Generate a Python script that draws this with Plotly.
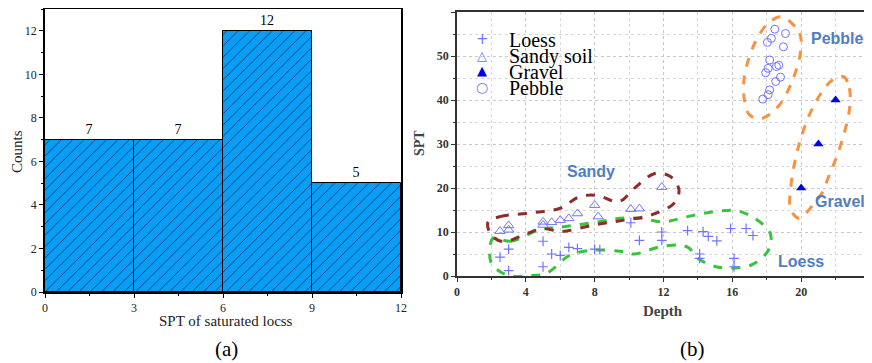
import plotly.graph_objects as go

# ---------------- data ----------------
bin_centers = [1.5, 4.5, 7.5, 10.5]
bin_counts = [7, 7, 12, 5]
hist_xticks = [0, 3, 6, 9, 12]

loess_depth = [2.5, 3.0, 3.0, 5.0, 5.0, 5.5, 6.0, 6.5, 7.0, 8.0, 8.3, 10.1, 10.6, 11.9, 11.9,
               13.4, 14.3, 14.6, 15.1, 14.1, 14.1, 15.9, 16.1, 16.1, 16.8, 17.2]
loess_spt = [4.3, 6.1, 1.2, 7.9, 2.1, 5.0, 4.7, 6.5, 6.2, 6.1, 6.0, 12.1, 8.1, 10.0, 8.1,
             10.3, 10.1, 9.0, 8.0, 5.0, 4.0, 10.8, 4.0, 2.1, 10.8, 9.2]

sandy_depth = [2.5, 3.0, 3.0, 5.0, 5.0, 5.5, 6.0, 6.5, 7.0, 8.0, 8.2, 10.1, 10.6, 11.9]
sandy_spt = [10.2, 11.5, 10.5, 12.3, 11.6, 12.2, 12.7, 13.1, 14.2, 16.1, 13.5, 15.2, 15.3, 20.2]

gravel_depth = [20, 21, 22]
gravel_spt = [20, 30, 40]

pebble_depth = [18.47, 19.09, 18.27, 18.04, 18.97, 18.17, 18.08, 18.7, 18.56, 17.94, 18.8,
                18.52, 18.17, 18.08, 17.77]
pebble_spt = [56.1, 55.1, 54.0, 53.1, 52.1, 49.1, 47.2, 47.9, 47.6, 46.2, 45.2, 44.2, 42.3,
              41.2, 40.2]

# hand-drawn group outlines (depth, SPT)
loess_outline_x = [2.1, 3.1, 4.8, 6.2, 8.2, 9.5, 10.7, 12.0, 13.4, 15.3, 16.3, 17.3, 18.2, 18.1,
                   17.1, 15.2, 14.0, 13.5, 13.0, 11.85, 10.3, 9.5, 8.15, 6.6, 5.2, 4.26, 2.9,
                   2.0, 1.93, 2.1]
loess_outline_y = [8.6, 7.9, 10.5, 11.2, 12.3, 13.1, 13.1, 12.3, 13.5, 14.8, 14.8, 13.1, 9.7, 5.9,
                   2.5, 2.0, 4.0, 6.3, 7.0, 6.7, 5.0, 5.6, 5.9, 4.8, 0.6, 0.1, 0.2, 2.9, 6.7, 8.6]
sandy_outline_x = [1.8, 2.5, 4.45, 6.0, 7.1, 8.15, 9.4, 10.3, 11.5, 12.4, 12.9, 12.6, 11.3, 9.7,
                   7.96, 6.0, 5.04, 4.07, 2.7, 2.0, 1.8]
sandy_outline_y = [12.2, 13.5, 14.4, 15.4, 18.0, 18.3, 16.9, 19.9, 23.3, 22.6, 19.5, 16.5, 13.9,
                   12.7, 11.6, 10.1, 10.8, 9.7, 7.8, 9.3, 12.2]
pebble_outline_x = [18.86, 19.9, 19.98, 19.5, 18.66, 17.7, 17.0, 16.7, 16.7, 17.3, 18.08, 18.86]
pebble_outline_y = [58.9, 55.2, 51.4, 44.5, 38.5, 35.8, 36.6, 40.0, 45.3, 52.9, 57.4, 58.9]
gravel_outline_x = [22.46, 22.8, 22.8, 22.2, 21.6, 21.2, 20.6, 19.9, 19.4, 19.4, 19.9, 20.8, 21.8,
                    22.46]
gravel_outline_y = [45.3, 42.7, 37.7, 28.6, 22.6, 18.8, 15.75, 13.1, 15.0, 20.3, 30.2, 39.2, 44.5,
                    45.3]

group_labels = ["Pebble", "Gravel", "Sandy", "Loess"]
group_label_x = [22.1, 22.25, 7.8, 20.0]
group_label_y = [53.9, 17.0, 23.8, 3.3]

legend_names = ["Loess", "Sandy soil", "Gravel", "Pebble"]
legend_glyphs = ["+", "△", "▲", "○"]

# ---------------- figure ----------------
SERIF = "Liberation Serif"
SANS = "Liberation Sans"
PT = "#7373FA"
BAR = "#0A9DF6"
# page body has an 8px margin: figure is sized to fit the window exactly
OFF = 8
W, H = 872 - OFF, 363 - OFF


def px_x(v):
    return min(1.0, max(0.0, (v - OFF) / W))


def px_y(v):
    return min(1.0, max(0.0, 1 - (v - OFF) / H))


fig = go.Figure()

fig.add_trace(go.Bar(
    x=bin_centers, y=bin_counts, width=3, text=[str(c) for c in bin_counts],
    textposition="outside", cliponaxis=False,
    textfont=dict(family=SERIF, size=14, color="black"),
    marker=dict(color=BAR, line=dict(color="black", width=1),
                pattern=dict(shape="/", fgcolor="#17305A", bgcolor=BAR,
                             size=8, solidity=0.1)),
    showlegend=False, xaxis="x", yaxis="y"))

outline_specs = [
    (loess_outline_x, loess_outline_y, "#35C43A"),
    (sandy_outline_x, sandy_outline_y, "#8E2B2B"),
    (pebble_outline_x, pebble_outline_y, "#F7923F"),
    (gravel_outline_x, gravel_outline_y, "#F7923F"),
]
for ox, oy, col in outline_specs:
    fig.add_trace(go.Scatter(x=ox, y=oy, mode="lines",
                             line=dict(color=col, width=3, dash="dash", shape="spline",
                                       smoothing=1.0),
                             showlegend=False, hoverinfo="skip", xaxis="x2", yaxis="y2"))

fig.add_trace(go.Scatter(x=loess_depth, y=loess_spt, mode="markers", name="Loess",
                         marker=dict(symbol="cross-thin-open", size=7, color=PT,
                                     line=dict(color=PT, width=1.2)),
                         showlegend=False, xaxis="x2", yaxis="y2"))
fig.add_trace(go.Scatter(x=sandy_depth, y=sandy_spt, mode="markers", name="Sandy soil",
                         marker=dict(symbol="triangle-up-open", size=9, color=PT,
                                     line=dict(color=PT, width=1)),
                         showlegend=False, xaxis="x2", yaxis="y2"))
fig.add_trace(go.Scatter(x=gravel_depth, y=gravel_spt, mode="markers", name="Gravel",
                         marker=dict(symbol="triangle-up", size=9, color="#0000F0"),
                         showlegend=False, xaxis="x2", yaxis="y2"))
fig.add_trace(go.Scatter(x=pebble_depth, y=pebble_spt, mode="markers", name="Pebble",
                         marker=dict(symbol="circle-open", size=8, color=PT,
                                     line=dict(color=PT, width=1)),
                         showlegend=False, xaxis="x2", yaxis="y2"))

annotations = []
for t, lx, ly in zip(group_labels, group_label_x, group_label_y):
    annotations.append(dict(x=lx, y=ly, xref="x2", yref="y2", text=f"<b>{t}</b>",
                            showarrow=False, xanchor="center", yanchor="middle",
                            font=dict(family=SANS, size=16, color="#4F7EC2")))

# legend drawn as compact text rows (as in the original, rows overlap slightly)
legend_row_y = [39, 55, 71, 87]
glyph_colors = [PT, PT, "#0000F0", PT]
glyph_sizes = [15, 13, 13, 14]
for name, g, ry, gc, gs in zip(legend_names, legend_glyphs, legend_row_y, glyph_colors,
                               glyph_sizes):
    annotations.append(dict(x=px_x(482), y=px_y(ry), xref="paper", yref="paper", text=g,
                            showarrow=False, xanchor="center", yanchor="middle",
                            font=dict(family="DejaVu Sans", size=gs, color=gc)))
    annotations.append(dict(x=px_x(507), y=px_y(ry + 1), xref="paper", yref="paper",
                            text=name, showarrow=False, xanchor="left", yanchor="middle",
                            font=dict(family=SERIF, size=20, color="black")))

# axis titles and captions
text_items = [
    ("SPT of saturated locss", 226, 321, 0, dict(family=SERIF, size=15, color="#222")),
    ("Counts", 17, 152, -90, dict(family=SERIF, size=15, color="#222")),
    ("<b>Depth</b>", 663, 311, 0, dict(family=SERIF, size=15, color="#444")),
    ("<b>SPT</b>", 420, 143, -90, dict(family=SERIF, size=14, color="#444")),
    ("(a)", 226, 349, 0, dict(family=SERIF, size=21, color="black")),
    ("(b)", 692, 349, 0, dict(family=SERIF, size=21, color="black")),
]
for t, x, y, ang, f in text_items:
    annotations.append(dict(x=px_x(x), y=px_y(y), xref="paper", yref="paper", text=t,
                            textangle=ang, showarrow=False, xanchor="center",
                            yanchor="middle", font=f))

tickfont_a = dict(family=SERIF, size=12, color="#222")
tickfont_b = dict(family=SERIF, size=12, color="#333", weight="bold")

common = dict(automargin=False, zeroline=False, showline=True, linewidth=1.5)

fig.update_layout(
    template="none",
    width=W, height=H, margin=dict(l=0, r=0, t=0, b=0, autoexpand=False),
    paper_bgcolor="white", plot_bgcolor="white",
    annotations=annotations,
    bargap=0,
    showlegend=False,
    xaxis=dict(domain=[px_x(45), px_x(401)], range=[0, 12], tickvals=hist_xticks,
               ticks="outside", ticklen=4, tickcolor="black", linecolor="black",
               mirror=True, showgrid=False,
               minor=dict(dtick=1.5, ticks="outside", ticklen=2, tickcolor="black"),
               tickfont=tickfont_a, **common),
    yaxis=dict(domain=[px_y(292), px_y(9)], range=[0, 13], dtick=2,
               ticks="outside", ticklen=4, tickcolor="black", linecolor="black",
               mirror=True, showgrid=False,
               minor=dict(dtick=1, ticks="outside", ticklen=2, tickcolor="black"),
               tickfont=tickfont_a, **common),
    # inward ticks on the top / right frame of panel (a)
    xaxis3=dict(overlaying="x", anchor="y", side="top", range=[0, 12], tickvals=hist_xticks,
                ticks="inside", ticklen=4, tickcolor="black", showticklabels=False,
                showgrid=False, linecolor="black",
                minor=dict(dtick=1.5, ticks="inside", ticklen=2, tickcolor="black"), **common),
    yaxis3=dict(overlaying="y", anchor="x", side="right", range=[0, 13], dtick=2,
                ticks="inside", ticklen=4, tickcolor="black", showticklabels=False,
                showgrid=False, linecolor="black",
                minor=dict(dtick=1, ticks="inside", ticklen=2, tickcolor="black"), **common),
    xaxis2=dict(domain=[px_x(457), px_x(870)], range=[0, 24], dtick=4, anchor="y2",
                ticks="outside", ticklen=4, tickcolor="#333", linecolor="#333",
                mirror=True,
                showgrid=True, gridcolor="#c8c8c8", griddash="dot", gridwidth=1,
                minor=dict(dtick=2, ticks="outside", ticklen=2, showgrid=True,
                           gridcolor="#d8d8d8", griddash="dot"),
                tickfont=tickfont_b, **common),
    yaxis2=dict(domain=[px_y(276), px_y(12)], range=[0, 60], dtick=10, anchor="x2",
                ticks="outside", ticklen=4, tickcolor="#333", linecolor="#333",
                mirror=True,
                showgrid=True, gridcolor="#c8c8c8", griddash="dot", gridwidth=1,
                minor=dict(dtick=5, ticks="outside", ticklen=2, showgrid=True,
                           gridcolor="#d8d8d8", griddash="dot"),
                tickfont=tickfont_b, **common),
    # inward ticks on the top / right frame of panel (b)
    xaxis4=dict(overlaying="x2", anchor="y2", side="top", range=[0, 24], dtick=4,
                ticks="inside", ticklen=4, tickcolor="#333", showticklabels=False,
                showgrid=False, linecolor="#333",
                minor=dict(dtick=2, ticks="inside", ticklen=2, tickcolor="#333"), **common),
    yaxis4=dict(overlaying="y2", anchor="x2", side="right", range=[0, 60], dtick=10,
                ticks="inside", ticklen=4, tickcolor="#333", showticklabels=False,
                showgrid=False, linecolor="#333",
                minor=dict(dtick=5, ticks="inside", ticklen=2, tickcolor="#333"), **common),
)

fig.write_html("out.html")
